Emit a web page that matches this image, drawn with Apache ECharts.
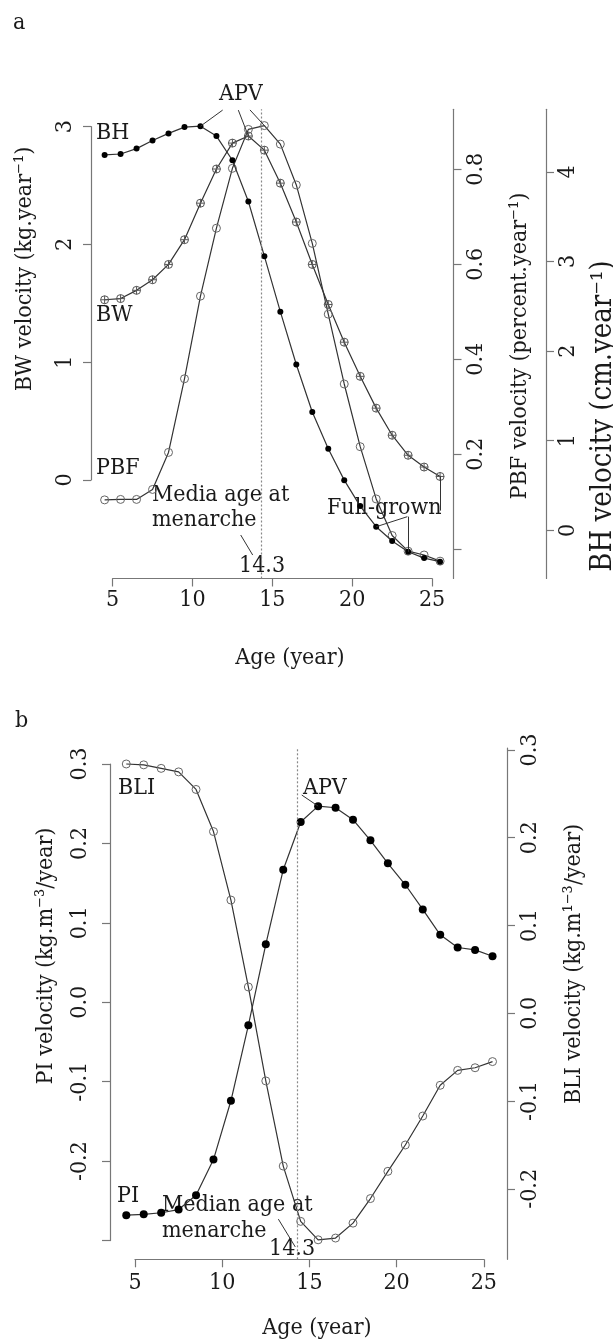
<!DOCTYPE html>
<html>
<head>
<meta charset="utf-8">
<script src="https://cdn.jsdelivr.net/npm/echarts@6/dist/echarts.min.js"></script>
<style>
  html, body { margin: 0; padding: 0; background: #fff; }
  #chart { width: 613px; height: 1342px; }
</style>
</head>
<body>
<div id="chart"></div>
<script>
// ages of the velocity estimates (mid-year)
const ages = [4.5, 5.5, 6.5, 7.5, 8.5, 9.5, 10.5, 11.5, 12.5, 13.5, 14.5,
              15.5, 16.5, 17.5, 18.5, 19.5, 20.5, 21.5, 22.5, 23.5, 24.5, 25.5];

// panel a
const bwVel  = [1.53, 1.54, 1.61, 1.70, 1.83, 2.04, 2.35, 2.64, 2.86, 2.92, 2.80,
                2.52, 2.19, 1.83, 1.49, 1.17, 0.88, 0.61, 0.38, 0.21, 0.11, 0.03];
const pbfVel = [0.104, 0.105, 0.105, 0.126, 0.204, 0.359, 0.533, 0.676, 0.802, 0.884, 0.892,
                0.853, 0.767, 0.644, 0.495, 0.348, 0.216, 0.106, 0.029, -0.004, -0.012, -0.025];
const bhVel  = [4.19, 4.20, 4.26, 4.35, 4.43, 4.50, 4.51, 4.40, 4.13, 3.67, 3.06,
                2.44, 1.85, 1.32, 0.91, 0.56, 0.27, 0.04, -0.12, -0.24, -0.31, -0.35];

// panel b
const piVel  = [-0.268, -0.267, -0.265, -0.261, -0.243, -0.198, -0.124, -0.029, 0.073, 0.167, 0.227,
                0.247, 0.245, 0.230, 0.204, 0.175, 0.148, 0.117, 0.085, 0.069, 0.066, 0.058];
const bliVel = [0.284, 0.283, 0.279, 0.275, 0.255, 0.207, 0.129, 0.030, -0.077, -0.174, -0.237,
                -0.258, -0.256, -0.239, -0.211, -0.180, -0.150, -0.117, -0.082, -0.065, -0.062, -0.055];

// ticks
const ageTicks = [5, 10, 15, 20, 25];
const bwTicks = [0, 1, 2, 3];
const pbfTicks = [0, 0.2, 0.4, 0.6, 0.8];
const pbfLabels = [0.2, 0.4, 0.6, 0.8];
const bhTicks = [0, 1, 2, 3, 4];
const piTicks = [-0.3, -0.2, -0.1, 0, 0.1, 0.2, 0.3];
const piLabels = [-0.2, -0.1, 0, 0.1, 0.2, 0.3];
const bliTicks = [-0.2, -0.1, 0, 0.1, 0.2, 0.3];

const menarche = 14.3;

const FONT = '"DejaVu Serif Condensed", "DejaVu Serif", serif';
const TXT = '#1a1a1a';
const AX = '#777';
const LINE = '#333';

const pairs = arr => ages.map((a, i) => [a, arr[i]]);

// axis drawn R-style: line + outward ticks + labels
function shownAxis(extra, ticks, labels, fmt, margin, rotate) {
  return Object.assign({
    type: 'value',
    axisLine: { show: true, lineStyle: { color: AX, width: 1.2 } },
    axisTick: { show: true, length: 8, customValues: ticks, lineStyle: { color: AX, width: 1.2 } },
    axisLabel: {
      show: true, customValues: labels, margin: margin, rotate: rotate || 0,
      color: TXT, fontFamily: FONT, fontSize: 23,
      formatter: fmt
    },
    splitLine: { show: false }
  }, extra);
}
function hiddenAxis(extra) {
  return Object.assign({ type: 'value', show: false, splitLine: { show: false } }, extra);
}
const fmt1 = v => Number(v).toFixed(1);
const fmt0 = v => String(Math.round(v));

const lead = { color: LINE, width: 1, type: 'solid' };
const dotted = { color: '#888', width: 1.2, type: [2, 2] };
function seg(p, q) {
  return [{ coord: p, lineStyle: lead }, { coord: q }];
}

const openCircle = { color: 'rgba(0,0,0,0)', borderColor: '#666', borderWidth: 1 };
const plusCircle = 'path://M10,0 A10,10 0 1,1 10,20 A10,10 0 1,1 10,0 Z M0,10 L20,10 M10,0 L10,20';

function txt(text, x, y, opts) {
  opts = opts || {};
  const el = {
    type: 'text', x: x, y: y, silent: true,
    style: Object.assign({
      text: text, fill: TXT, fontFamily: FONT, fontSize: 23,
      textAlign: 'left', textVerticalAlign: 'middle'
    }, opts.style || {})
  };
  if (opts.rotation) el.rotation = opts.rotation;
  return el;
}
const R90 = Math.PI / 2;

const chart = echarts.init(document.getElementById('chart'), null, { renderer: 'canvas' });

const option = {
  animation: false,
  backgroundColor: '#fff',
  grid: [
    { left: 91, top: 109.3, width: 362.5, height: 469.2 },   // 0 panel a data
    { left: 112.6, top: 577.5, width: 319.5, height: 1 },    // 1 panel a age axis
    { left: 91, top: 126.7, width: 10, height: 353.3 },      // 2 panel a BW axis
    { left: 111, top: 748, width: 396, height: 511.3 },      // 3 panel b data
    { left: 135, top: 1258.3, width: 348.8, height: 1 },     // 4 panel b age axis
    { left: 110, top: 764, width: 10, height: 476.6 }        // 5 panel b PI axis
  ],
  xAxis: [
    hiddenAxis({ gridIndex: 0, min: 3.648, max: 26.34 }),
    shownAxis({ gridIndex: 1, min: 5, max: 25, position: 'bottom' }, ageTicks, ageTicks, fmt0, 10),
    hiddenAxis({ gridIndex: 2, min: 0, max: 1 }),
    hiddenAxis({ gridIndex: 3, min: 3.624, max: 26.33 }),
    shownAxis({ gridIndex: 4, min: 5, max: 25, position: 'bottom' }, ageTicks, ageTicks, fmt0, 12),
    hiddenAxis({ gridIndex: 5, min: 0, max: 1 })
  ],
  yAxis: [
    hiddenAxis({ gridIndex: 0, min: -0.8362, max: 3.1469 }),                                        // 0 BW
    shownAxis({ gridIndex: 0, position: 'right', min: -0.0615, max: 0.9263 },
      pbfTicks, pbfLabels, fmt1, 11.5, 90),                                                         // 1 PBF
    shownAxis({ gridIndex: 0, position: 'right', offset: 92.5, min: -0.5379, max: 4.6987 },
      bhTicks, bhTicks, fmt0, 10.5, 90),                                                            // 2 BH
    hiddenAxis({ gridIndex: 1, min: 0, max: 1 }),                                                   // 3
    shownAxis({ gridIndex: 2, position: 'left', min: 0, max: 3 }, bwTicks, bwTicks, fmt0, 14.5, 90), // 4 BW shown
    hiddenAxis({ gridIndex: 3, min: -0.3236, max: 0.3202 }),                                        // 5 PI
    shownAxis({ gridIndex: 3, position: 'right', min: -0.2802, max: 0.3022 },
      bliTicks, bliTicks, fmt1, 11.5, 90),                                                          // 6 BLI
    hiddenAxis({ gridIndex: 4, min: 0, max: 1 }),                                                   // 7
    shownAxis({ gridIndex: 5, position: 'left', min: -0.3, max: 0.3 }, piTicks, piLabels, fmt1, 18.5, 90) // 8 PI shown
  ],
  series: [
    {
      name: 'BW', type: 'line', xAxisIndex: 0, yAxisIndex: 0, data: pairs(bwVel),
      symbol: plusCircle, symbolSize: 8,
      itemStyle: { color: 'rgba(0,0,0,0)', borderColor: '#555', borderWidth: 1 },
      lineStyle: { color: LINE, width: 1.2 }, z: 3,
      markLine: {
        silent: true, symbol: 'none', label: { show: false },
        data: [
          { xAxis: menarche, lineStyle: dotted },
          seg([12.87, 3.14], [ages[9], bwVel[9]]),
          seg([13.02, -0.467], [13.77, -0.637]),
          seg([ages[21], bwVel[21]], [ages[21], -0.26])
        ]
      }
    },
    {
      name: 'PBF', type: 'line', xAxisIndex: 0, yAxisIndex: 1, data: pairs(pbfVel),
      symbol: 'circle', symbolSize: 8, itemStyle: openCircle,
      lineStyle: { color: LINE, width: 1.2 }, z: 3,
      markLine: {
        silent: true, symbol: 'none', label: { show: false },
        data: [ seg([13.60, 0.925], [ages[10], pbfVel[10]]) ]
      }
    },
    {
      name: 'BH', type: 'line', xAxisIndex: 0, yAxisIndex: 2, data: pairs(bhVel),
      symbol: 'circle', symbolSize: 6, itemStyle: { color: '#000' },
      lineStyle: { color: LINE, width: 1.2 }, z: 4,
      markLine: {
        silent: true, symbol: 'none', label: { show: false },
        data: [
          seg([11.89, 4.69], [ages[6], bhVel[6]]),
          seg([23.45, 0.152], [ages[17], bhVel[17]]),
          seg([23.5, 0.152], [ages[19], bhVel[19]])
        ]
      }
    },
    {
      name: 'BLI', type: 'line', xAxisIndex: 3, yAxisIndex: 6, data: pairs(bliVel),
      symbol: 'circle', symbolSize: 8, itemStyle: openCircle,
      lineStyle: { color: LINE, width: 1.2 }, z: 3
    },
    {
      name: 'PI', type: 'line', xAxisIndex: 3, yAxisIndex: 5, data: pairs(piVel),
      symbol: 'circle', symbolSize: 8, itemStyle: { color: '#000' },
      lineStyle: { color: LINE, width: 1.2 }, z: 4,
      markLine: {
        silent: true, symbol: 'none', label: { show: false },
        data: [
          { xAxis: menarche, lineStyle: dotted },
          seg([14.56, 0.261], [ages[11], piVel[11]]),
          seg([13.22, -0.273], [14.19, -0.308])
        ]
      }
    }
  ],
  graphic: [
    // panel a
    txt('a', 13, 23),
    txt('BH', 96, 133),
    txt('BW', 96, 315),
    txt('PBF', 96, 468),
    txt('APV', 219, 94),
    txt('Media age at', 152, 495),
    txt('menarche', 152, 520),
    txt('14.3', 239, 566),
    txt('Full-grown', 327, 508),
    txt('BW velocity (kg.year\u207B\u00B9)', 25, 269, { rotation: R90, style: { textAlign: 'center' } }),
    txt('PBF velocity (percent.year\u207B\u00B9)', 520, 346, { rotation: R90, style: { textAlign: 'center' } }),
    txt('BH velocity (cm.year\u207B\u00B9)', 603, 416, { rotation: R90, style: { textAlign: 'center', fontSize: 29 } }),
    txt('Age (year)', 290, 658, { style: { textAlign: 'center' } }),
    // panel b
    txt('b', 15, 721),
    txt('BLI', 118, 788),
    txt('APV', 303, 788),
    txt('PI', 117, 1196),
    txt('Median age at', 162, 1205),
    txt('menarche', 162, 1231),
    txt('14.3', 269, 1249),
    txt('PI velocity (kg.m\u207B\u00B3/year)', 46, 956, { rotation: R90, style: { textAlign: 'center' } }),
    txt('BLI velocity (kg.m\u00B9\u207B\u00B3/year)', 574, 964, { rotation: R90, style: { textAlign: 'center' } }),
    txt('Age (year)', 317, 1328, { style: { textAlign: 'center' } })
  ]
};

chart.setOption(option);
</script>
</body>
</html>
